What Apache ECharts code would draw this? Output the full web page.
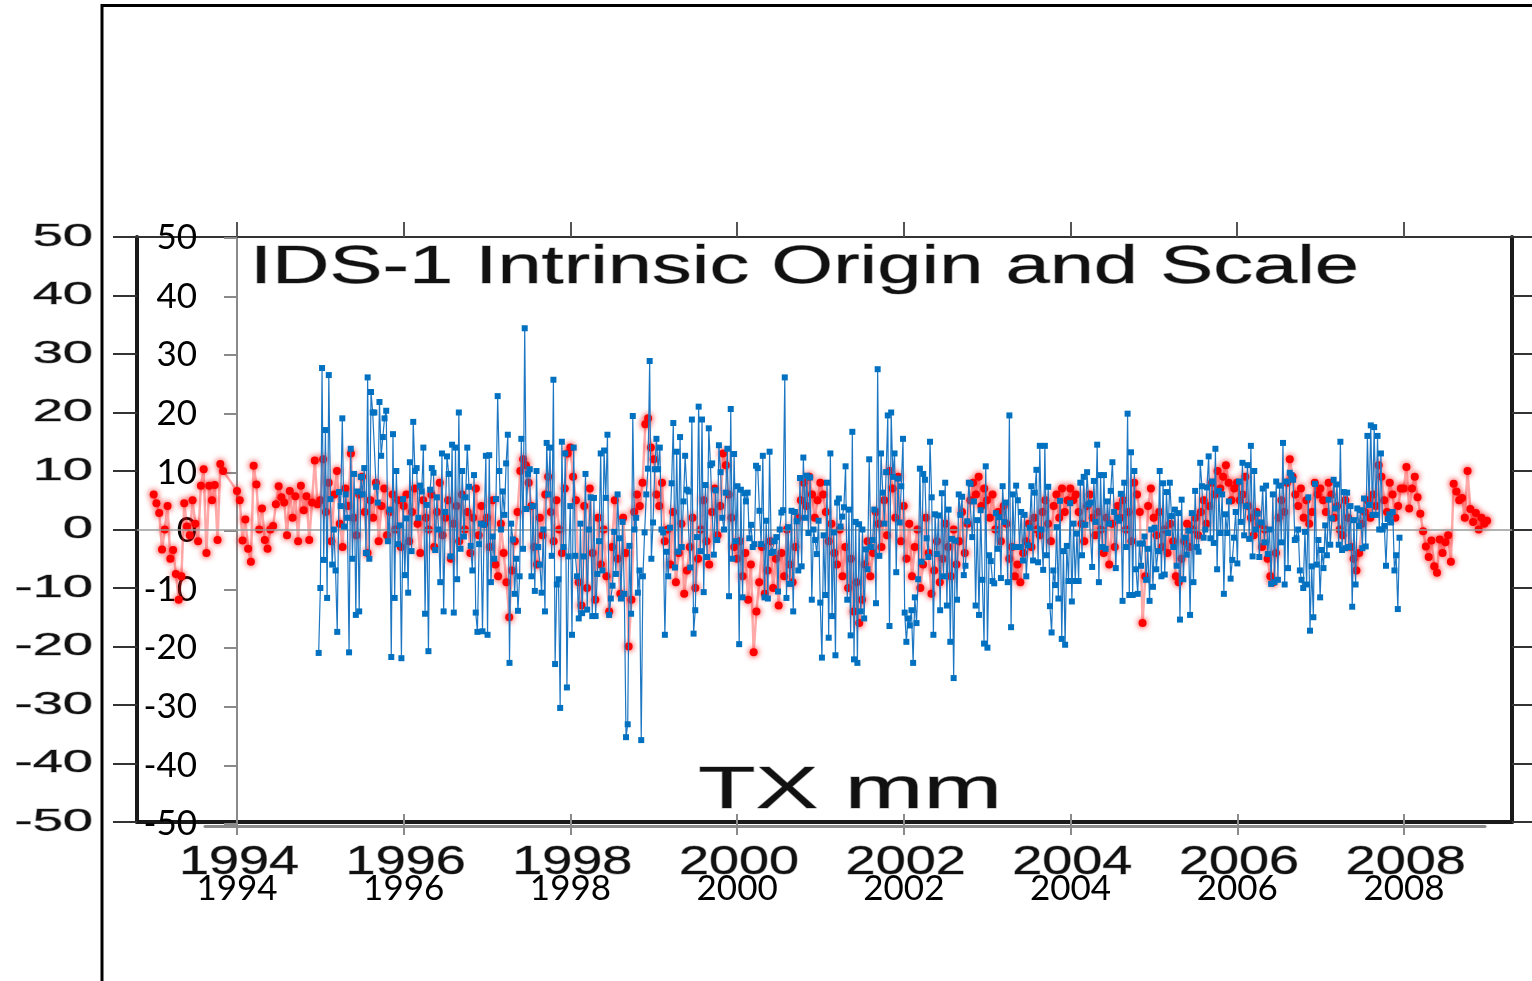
<!DOCTYPE html>
<html>
<head>
<meta charset="utf-8">
<script src="https://cdn.jsdelivr.net/npm/echarts@6/dist/echarts.min.js"></script>
<style>
html,body{margin:0;padding:0;background:#ffffff;}
#c{width:1532px;height:981px;}
</style>
</head>
<body>
<div id="c"></div>
<script>
// ---------- texts & ticks ----------
const titleText = 'IDS-1 Intrinsic Origin and Scale';
const unitText = 'TX mm';
const yearTicks = [1994, 1996, 1998, 2000, 2002, 2004, 2006, 2008];
const yTickLabels = [50, 40, 30, 20, 10, 0, -10, -20, -30, -40, -50];

// ---------- red series (IDS-1, 30 samples per year from 1993.0) ----------
const redStart = 1993.0;
const redPerYear = 30;
const red1993 = [6, 4.5, 2.8, -3.4, 0, 4, -5, -3.5, -7.6, -12, -8, 4.5, 0.5, -1, 5, 1, -2, 7.5, 10.3, -4, 7.5, 5, 7.6, -1.8, 11.2, 10, null, null, null, null];
const red1994 = [6.6, 5, -1.9, 1.7, -3.3, -5.5, 10.9, 7.7, 0, 3.6, -1.8, -3.3, 0, 0.6, 4.3, 7.4, 5.5, 4.6, -1, 6.6, 2, 5.7, -2, 7.5, 3.3, 5.7, -1.8, 4.6, 11.8, 4.3];
const red1995 = [5, 12, 3, 8, -2, 6, 10, 1, -3, 7, 4, 13, 2, -1, 6, 9, 3, -4, 5, 2, 8, -2, 4, 7, -1, 3, 6, 0, 5, -3];
const red1996 = [4, 6, -2, 3, 7, 1, -4, 5, 2, 0, 6, -3, 3, 8, -1, 2, 5, -5, 1, 4, -2, 6, 0, 3, -4, 2, 7, -1, 4, 1];
const red1997 = [2, -3, 5, -6, -8, 1, -4, -9, -15, -7, -2, 3, 10, 12, 11, 8, 4, -3, -6, 2, -1, 6, 9, 3, -2, 5, 0, -4, 7, 13];
const red1998 = [14, 9, 5, -9, -13, 4, -10, 7, -4, -12, 2, -6, 0, -8, -14, -3, 5, -5, -11, 2, -4, -20, -12, 3, 6, 4, 8, 18, 19, 14];
const red1999 = [12, 6, 4, 8, -2, 0, -6, 3, -9, -4, 1, -11, -7, -3, 2, -10, -5, 0, 5, -2, -6, 3, 7, -1, 4, 13, 11, 6, 2, -3];
const red2000 = [-5, -2, -8, -4, -12, -6, -21, -14, -9, -3, -11, -7, -2, -10, -5, -13, -4, -8, 0, -6, -9, -3, 2, 5, 8, 4, 9, 6, 2, 5];
const red2001 = [8, 6, 3, -2, 1, -4, -6, 0, -8, -3, -10, -5, -14, -9, -16, -12, -6, -2, -8, -4, 3, 1, -3, 5, -1, 10, 7, 2, 9, -2];
const red2002 = [4, -5, 1, -8, -3, 0, -10, -6, 2, -4, -11, -7, -2, -9, -5, 1, -3, -8, 0, -6, -2, 3, -4, 1, 5, 8, 6, 9, 4, 7];
const red2003 = [5, 2, 6, 0, 3, -2, 4, 1, -5, -3, -8, -6, -9, -4, -2, 1, -3, 2, 0, -1, 3, 5, 1, -2, 4, 6, 2, 7, 3, 5];
const red2004 = [7, 5, 6, 3, 1, -2, 4, 6, 2, -1, 3, 0, -4, 2, -6, 1, -3, 4, 2, 5, 0, 3, -2, 8, 6, 3, -16, -8, 4, 7];
const red2005 = [2, -1, 3, -3, 0, -4, 1, -2, -8, -9, -5, -2, 1, -3, 0, 2, -1, 3, 5, 1, 4, 8, 6, 10, 7, 9, 11, 8, 5, 7];
const red2006 = [8, 5, 6, 9, 4, 2, -1, 3, 1, -3, 0, -5, -8, -9, -4, 2, 5, 3, 8, 12, 9, 6, 4, 7, 2, 5, 1, 3, 8, 6];
const red2007 = [7, 5, 3, 8, 6, 2, 4, 0, -1, 5, 2, -3, -5, -7, -4, 1, 3, 5, 2, 6, 4, 11, 9, 5, 3, 8, 6, 2, 4, 7];
const red2008 = [7, 10.7, 3.6, 7, 9, 5.5, 2.7, -0.3, -2.9, -4.7, -1.9, -6.3, -7.4, -1.7, -4, -2.2, -1, -5.5, 7.8, 6.5, 5, 5.4, 2, 10, 3.5, 1.3, 2.8, 0, 2, 1];
const red2009 = [1.5];

// ---------- blue series (weekly, 1995.0 - 2007.95) ----------
const blueStart = 1994.98;
const blueEnd = 2007.95;
const blueA = [-21.1, -10, 27.6, -5.2, 17, -11.7, 26.4, 5.2, -6, 0, -7, -17.5, 6.4, 4, 19, 0.5, 6, 2, -21, 13.8, -5, 9.5, -14.6, 6.5, -14, 9, 6, 10.5, -4, 26, -5, 23.5];
const blueB = [20, 20, 7.3, 4.6, 21.8, 12.6, 15.8, 19, 20.3, -2, 3.4, -21.8, 16.3, -11.7, 10, -2.5, 0.7, -22, 5.2, -7.8, 1.9, -10.8, 11.5, -3.7, 18.4, 10, 10.5, 2, 7.5, 6.5, 14, -14.4, 4.2, -20.8, 6.8, 10.5, 9.7, -3.5, 5.5, 0, -9, 13, -14, 3, 12.5, 9.5, -4.6, 14.5, -14.2, 14, -8.5, 20, -3.3, 10, -1.2, 5.5, 14, 7.3, -2.8, -7, 9.3, -14.2, -17.5, -2.5, 1, -17.4, 0.8, 12.6, -18, 12.7, -9, -1.2, -5, 5.2, 22.8, 10, 0, 6.5, 2.5, 11.3, 16.2, -22.8, 1, -1.7, -11, -5, -13.9, -8, 15.5, -3.3, 34.4, 3.5, 9.5, 10.3, -8, 4, -10.5, 10, -3, -6, -10.8, 0, -14, 14.8, 6, 14, -4.5, 25.6, -23, -9.4, -8.5, -30.5, 15, -3, 13, -27, -4.6, 4, -18, 14, -4.5, -8, -15.2, 1, -14.3, -4.6, 9.5, -13.7, 0, 5.5, -14.8];
const blueC = [5.4, -14.8, -7.6, -2, 13, -7, 13.5, 5.4, 16.2, -14.6, -11.8, -9.6, -0.4, -7.6, 6, -1.5, -11.8, 1.3, -11, -35.5, -33.3, -2.8, -14.4, 19.4, 0, 2, -10.8, -7, -36, -8, -0.5, 6, 10.4, 28.8, -5, 1.2, 10.3, 15.5, 10.3, 14, 0, -0.5, -18, -3.8, -8, 0.3, 7.9, 18.2, -6.5, 13.3, -3.8, 15.8, -3, 4.8, 12.6, 6.8, 6.5, -6.5, 18.8, -17.8, -13.8, -1.3, 21, -3.7, 18.8, -10.7, 7.6, -4.7, 17.3, 11, 11.3, -4.3, 6.7, -1.8, 14.4, 9.8, 2, 0, 6.3, 13.8, -11.4, 20.6, -5, 12.9, -2, 7.4, -19.6, 6.8, -11.6, 6.2, 4.8, 6.3, -1.5, 0.8, -3, -2.5, 10.9, 10.5, 3.2, -2.5, 12.6, -11.6, 1.5, -11.8, 13.3, -4, -3.8, -2, -1.3, -10.6, 0, 2.9, 3.3, 26, -11.7, 0.4, -9.3, 3.2, -14, 3, 1.4, -7, 8.8, -6.3, 12.3, 2, 9.2, -0.6, 8.9, -12, 0, -1.8, -4.2, 1.5, -12.5, -21.9];
const blueD = [-1, -11.2, 8, -18.5, 13, -14.8, -0.5, -21.5, 4.6, 5.3, 0.5, 2.2, 3.8, 10.8, -12, 3.4, -18.1, 16.7, -22.2, 1.3, -22.8, 0.9, -14, 0, -15.2, -3.4, -6.8, 12, -3, -1.8, 3.4, -12.6, 27.4, -4.5, 13, 6.3, 1, 9.8, 19.5, -16.5, 20, 9, 13, -7.3, 8.7, 1.2, 7.4, 15.5, -14.2, -19.2, -15.2, -16.4, -13.8, -22.8, -11.6, -16, -8.5, 10.4, -5.5, 9.5, 8.5, -1.5, -4.7, 15, 5.5, -18, 2.6, -4.2, 2.4, -13.8, 6.2, -8, 8, -13, 3.4, -19.2, -1.6, -25.4, -1.9, -12, 6, 2.5, 5.6, -7.8, -6.2, 1.4, 8, 7.8, -1.3, 4.8, -13, 1.6, -14.6, 3.3, -8.6, -19.5, 10.8, -20.2, -4.4, -5.4, -8.8, -9.2, 2.8, -3.3, 2.1, -8.3, 7.4, 1.3, 4.6, -9, 19.5, -16.7, 6, -3, 7.5, 5, -3, 3, -5.3, 2.5, -8, -2.7, 0.3, 7.4, -5.3, 6.3, 10.2, -5.6, 14.3, 0];
const blueE = [-6.9, 14.3, -4.4, 7.3, -13.1, -17.6, -7, -9.5, 0.4, -11.8, 4.9, -18.7, -3.7, -19.7, -2.8, -8.8, 4.5, -12.3, 1, -8.8, -0.7, -8.8, 8, -4.4, 9, 0.8, 9.8, 4.3, 4.6, -6.4, 8.3, 1.3, 14.5, -9, 9.3, -3, 9.3, -3.3, 4.8, 1, 6.6, 11.5, 3, -6.6, 2, 1.5, 6.1, -12.2, 8, -3, 19.8, -11.2, 13.2, -11.2, 10, -6.8, -11, -2.4, -6.2, -2.4, -1.2, -8.6, -3.3, -12.2, 0, -9.8, 0.3, -6.8, -3.7, 10, -8, 7.9, -7.7, 6.4, -0.6, 8, 2.3, -3, 3.4, -6.2, 2.8, -15.4, 5.1, -8.5, -1.4, -4.3, -0.2, -14.6, 2.8, -9, 6.6, -3, -3.8, 11.4, 7.4, -1.4, 0, 7.2, 12.5, -1.5, 8.2, -2.3, 13.8, -6.8, 6.6, -0.6, 6, -11, 2.6, -0.6, 4.8, -8.4, -5.2, -1.4, 3, -5.8, 8.2, 1.3, 11.4, -1, 4, 11, -1.6, 14.3, -4.6, 10, 0, 2.7, -4.7, 1.2, 7];
const blueF = [-2.2, 7.5, -4.2, 0, -9.3, 6, -9, 8.2, -8.6, 7.5, -2.2, 14.8, -9.4, 8.2, -6.6, 9.7, 9.3, 8.5, -1.8, -1.5, 0, -7, -8.6, -10, -0.4, -9.4, 5.5, -17.3, -6.3, -15, 7.8, -6, -1.8, -11.6, -3.5, -6.6, 0.7, -4.4, 5.1, -2.6, 1.9, 8.5, 3.6, 7.7, -2.6, 15, -3.5, 6.4, -3.2, 6.3, -3, 4, -13.2, 1.6, -9.4, 3.6, 0.6, 3.3, -3.2, 5.3, -2.9, 16, 4.2, 17.8, 2.5, 17.5, 2.5, 16, 0, 13, 0, 0.6, -6.2, 1.8, 2.6, 1.2, 3, -7, -4.4, -13.6, -1.4];

// ---------- build series data ----------
const redValues = [].concat(red1993, red1994, red1995, red1996, red1997, red1998, red1999, red2000,
  red2001, red2002, red2003, red2004, red2005, red2006, red2007, red2008, red2009);
const redData = redValues.map((v, i) => [redStart + i / redPerYear, v === null ? '-' : v]);
const blueValues = [].concat(blueA, blueB, blueC, blueD, blueE, blueF);
const blueStep = (blueEnd - blueStart) / (blueValues.length - 1);
const blueData = blueValues.map((v, i) => [blueStart + i * blueStep, v]);

// ---------- axis ranges ----------
const gmtXMin = 1992.8, gmtXMax = 2009.3;
const xlXMin = 1993.616, xlXMax = 2008.972;

const chart = echarts.init(document.getElementById('c'), null, {renderer: 'canvas'});
const GRAY = '#8a8a8a';
const plain = v => String(v);
const option = {
  animation: false,
  backgroundColor: '#ffffff',
  grid: [
    {left: 137, top: 237, width: 1375, height: 585},
    {left: 237, top: 238, width: 1248, height: 586},
    {left: 205, top: 238, width: 1280, height: 588}
  ],
  xAxis: [
    {gridIndex: 0, type: 'value', min: gmtXMin, max: gmtXMax, position: 'bottom',
     axisLine: {show: true, onZero: false, lineStyle: {color: '#1a1a1a', width: 4}},
     axisTick: {show: false}, axisLabel: {show: false}, splitLine: {show: false}},
    {gridIndex: 0, type: 'value', min: gmtXMin, max: gmtXMax, position: 'top',
     axisLine: {show: true, onZero: false, lineStyle: {color: '#333', width: 2}},
     axisTick: {show: true, customValues: yearTicks, length: 15, lineStyle: {color: '#555', width: 2}},
     axisLabel: {show: false}, splitLine: {show: false}},
    {gridIndex: 1, type: 'value', min: 0, max: 1, show: false},
    {gridIndex: 2, type: 'value', min: xlXMin, max: xlXMax, position: 'bottom',
     axisLine: {show: true, onZero: false, lineStyle: {color: GRAY, width: 3}},
     axisTick: {show: true, customValues: yearTicks, length: 9, lineStyle: {color: GRAY, width: 2}},
     axisLabel: {show: true, customValues: yearTicks, formatter: plain, fontFamily: 'Lato', fontSize: 35, color: '#000', margin: 45},
     splitLine: {show: false}},
    {gridIndex: 2, type: 'value', min: xlXMin, max: xlXMax, position: 'bottom',
     axisLine: {show: false, onZero: false},
     axisTick: {show: true, inside: true, customValues: yearTicks, length: 12, lineStyle: {color: GRAY, width: 2}},
     axisLabel: {show: false}, splitLine: {show: false}}
  ],
  yAxis: [
    {gridIndex: 0, type: 'value', min: -50, max: 50, interval: 10, position: 'left',
     axisLine: {show: true, onZero: false, lineStyle: {color: '#1a1a1a', width: 4}},
     axisTick: {show: true, length: 24, lineStyle: {color: '#333', width: 2}},
     axisLabel: {show: false}, splitLine: {show: false}},
    {gridIndex: 0, type: 'value', min: -50, max: 50, interval: 10, position: 'right',
     axisLine: {show: true, onZero: false, lineStyle: {color: '#1a1a1a', width: 4}},
     axisTick: {show: true, length: 20, lineStyle: {color: '#333', width: 2}},
     axisLabel: {show: false}, splitLine: {show: false}},
    {gridIndex: 1, type: 'value', min: -50, max: 50, interval: 10, position: 'left',
     axisLine: {show: true, onZero: false, lineStyle: {color: GRAY, width: 2}},
     axisTick: {show: true, length: 13, lineStyle: {color: GRAY, width: 2}},
     axisLabel: {show: true, formatter: plain, fontFamily: 'Lato', fontSize: 35, color: '#000', margin: 40},
     splitLine: {show: false}},
    {gridIndex: 2, type: 'value', min: -50, max: 50, show: false}
  ],
  series: [
    {
      name: 'IDS-1', type: 'line', xAxisIndex: 0, yAxisIndex: 0, data: redData,
      connectNulls: true, symbol: 'circle', symbolSize: 8, showSymbol: true, z: 2,
      itemStyle: {color: '#ff0000', shadowBlur: 6, shadowColor: 'rgba(255,0,0,1)'},
      lineStyle: {color: 'rgba(255,30,30,0.38)', width: 2.5},
      markLine: {silent: true, symbol: ['none', 'none'], label: {show: false},
        lineStyle: {color: '#9a9a9a', width: 1.5, type: 'solid'}, data: [{yAxis: 0}]}
    },
    {
      name: 'TX', type: 'line', xAxisIndex: 0, yAxisIndex: 0, data: blueData,
      symbol: 'rect', symbolSize: 6, showSymbol: true, z: 5,
      itemStyle: {color: '#0070C0'},
      lineStyle: {color: '#1e77c2', width: 1.2}
    }
  ]
};
chart.setOption(option);

// ---------- stretched GMT-style texts (placed through the axes) ----------
const gmtText = (text, align, size) => ({text: text, align: align, textAlign: align,
  verticalAlign: 'middle', textVerticalAlign: 'middle', fontFamily: 'Liberation Sans', fontSize: size,
  fill: '#111', stroke: 'rgba(0,0,0,0.35)', lineWidth: 1});
const gfx = [];
gfx.push({type: 'line', shape: {x1: 102, y1: 4, x2: 102, y2: 981}, style: {stroke: '#000', lineWidth: 3}, z: 1});
gfx.push({type: 'line', shape: {x1: 101, y1: 5.5, x2: 1532, y2: 5.5}, style: {stroke: '#000', lineWidth: 3}, z: 1});
yTickLabels.forEach(v => {
  const py = chart.convertToPixel({yAxisIndex: 0}, v);
  gfx.push({type: 'text', x: 93, y: py, scaleX: 1.75, z: 1, style: gmtText(String(v), 'right', 31)});
});
yearTicks.forEach(yr => {
  const px = chart.convertToPixel({xAxisIndex: 0}, yr);
  gfx.push({type: 'text', x: px + 2, y: 863, scaleX: 1.35, z: 1, style: gmtText(String(yr), 'center', 40)});
});
gfx.push({type: 'text', x: 250, y: 268, scaleX: 1.5, z: 1, style: gmtText(titleText, 'left', 53)});
gfx.push({type: 'text', x: 850, y: 792, scaleX: 1.6, z: 1, style: gmtText(unitText, 'center', 59)});
chart.setOption({graphic: gfx});
</script>
</body>
</html>
